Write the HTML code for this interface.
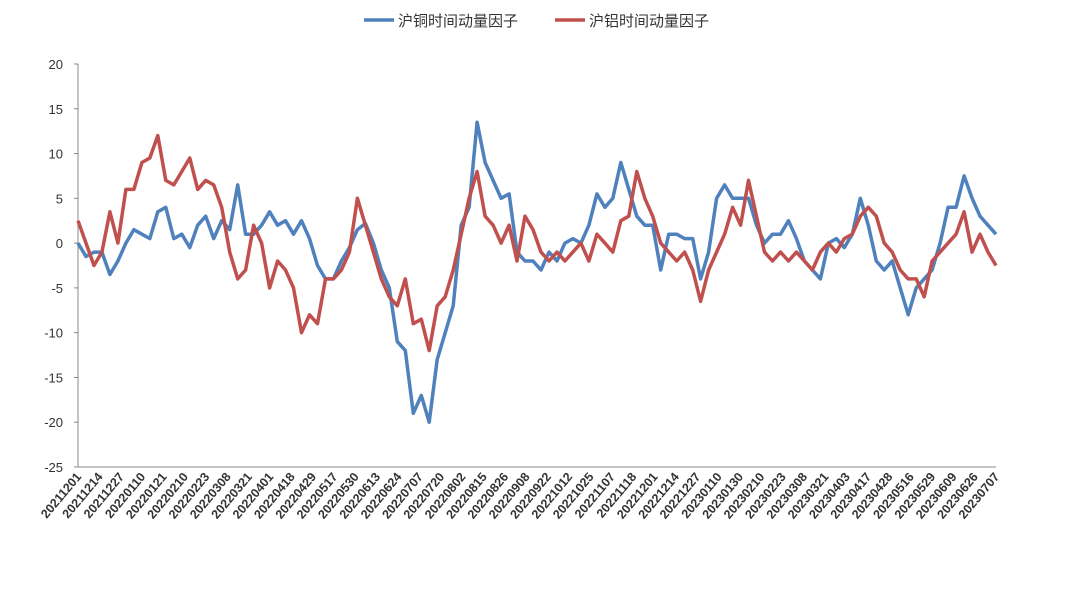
<!DOCTYPE html>
<html><head><meta charset="utf-8"><style>
body{margin:0;background:#fff;}
svg text{font-family:"Liberation Sans","Noto Sans CJK SC",sans-serif;fill:#333;}
</style></head><body>
<svg width="1080" height="591" viewBox="0 0 1080 591" xmlns="http://www.w3.org/2000/svg">
<g>
<line x1="364" y1="20" x2="394" y2="20" stroke="#4f81bd" stroke-width="3.5"/>
<text x="398" y="26" font-size="15">沪铜时间动量因子</text>
<line x1="555" y1="20" x2="585" y2="20" stroke="#c0504d" stroke-width="3.5"/>
<text x="589" y="26" font-size="15">沪铝时间动量因子</text>
</g>
<g id="axes"></g>
<g id="series"></g>
</svg>
<script>
const yTicks=[20,15,10,5,0,-5,-10,-15,-20,-25];
const dateLabels=["20211201","20211214","20211227","20220110","20220121","20220210","20220223","20220308","20220321","20220401","20220418","20220429","20220517","20220530","20220613","20220624","20220707","20220720","20220802","20220815","20220826","20220908","20220922","20221012","20221025","20221107","20221118","20221201","20221214","20221227","20230110","20230130","20230210","20230223","20230308","20230321","20230403","20230417","20230428","20230516","20230529","20230609","20230626","20230707"];
const copper=[0,-1.5,-1,-1,-3.5,-2,0,1.5,1,0.5,3.5,4,0.5,1,-0.5,2,3,0.5,2.5,1.5,6.5,1,1,2,3.5,2,2.5,1,2.5,0.5,-2.5,-4,-4,-2,-0.5,1.5,2.2,0,-3,-5,-11,-12,-19,-17,-20,-13,-10,-7,2,4,13.5,9,7,5,5.5,-1,-2,-2,-3,-1,-2,0,0.5,0,2,5.5,4,5,9,6,3,2,2,-3,1,1,0.5,0.5,-4,-1,5,6.5,5,5,5,2,0,1,1,2.5,0.5,-2,-3,-4,0,0.5,-0.5,1,5,2,-2,-3,-2,-5,-8,-5,-4,-3,0,4,4,7.5,5,3,2,1];
const aluminum=[2.5,0,-2.5,-1,3.5,0,6,6,9,9.5,12,7,6.5,8,9.5,6,7,6.5,4,-1,-4,-3,2,0,-5,-2,-3,-5,-10,-8,-9,-4,-4,-3,-1,5,2,-1,-4,-6,-7,-4,-9,-8.5,-12,-7,-6,-3,1,5,8,3,2,0,2,-2,3,1.5,-1,-2,-1,-2,-1,0,-2,1,0,-1,2.5,3,8,5,3,0,-1,-2,-1,-3,-6.5,-3,-1,1,4,2,7,3,-1,-2,-1,-2,-1,-2,-3,-1,0,-1,0.5,1,3,4,3,0,-1,-3,-4,-4,-6,-2,-1,0,1,3.5,-1,1,-1,-2.5];
const X0=78,X1=996,Y20=64,Y25=467;
const yS=v=>Y20+(20-v)*(Y25-Y20)/45;
const NS="http://www.w3.org/2000/svg";
const axes=document.getElementById('axes'),series=document.getElementById('series');
function mk(t,a,p){const e=document.createElementNS(NS,t);for(const k in a)e.setAttribute(k,a[k]);p.appendChild(e);return e;}
const ax=mk('line',{x1:X0,y1:Y20,x2:X0,y2:Y25,stroke:'#888','stroke-width':1},axes);


const xa=mk('line',{x1:X0,y1:Y25,x2:X1,y2:Y25,stroke:'#888','stroke-width':1},axes);


yTicks.forEach(v=>{const y=yS(v);
const tk=mk('line',{x1:X0-4,y1:y,x2:X0,y2:y,stroke:'#888'},axes);


const t=mk('text',{x:63,y:y+5,'text-anchor':'end','font-size':13},axes);t.textContent=v;

});
const nL=dateLabels.length;
for(let i=0;i<nL;i++){const lbl=dateLabels[i];
const x=X0+i*(X1-X0)/(nL-1);
const t=mk('text',{x:x+4,y:Y25+10,'text-anchor':'end','font-size':12.5,'font-weight':'bold',transform:`rotate(-50 ${x+4} ${Y25+10})`},axes);
t.textContent=lbl;

}
function draw(arr,col,name){const n=arr.length;
const pts=arr.map((v,i)=>(X0+i*(X1-X0)/(n-1)).toFixed(1)+','+yS(v).toFixed(1)).join(' ');
const p=mk('polyline',{points:pts,fill:'none',stroke:col,'stroke-width':3.5,'stroke-linejoin':'round'},series);

}
draw(copper,'#4f81bd','copper-momentum-line');
draw(aluminum,'#c0504d','aluminum-momentum-line');
</script>
</body></html>
